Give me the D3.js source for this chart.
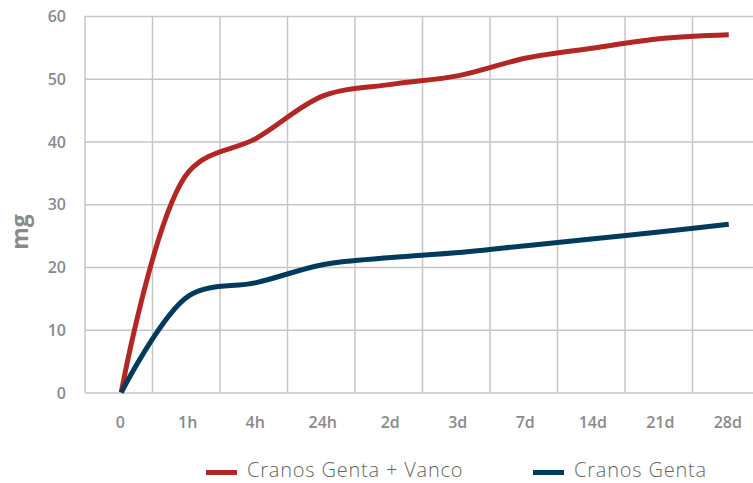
<!DOCTYPE html>
<html>
<head>
<meta charset="utf-8">
<script src="https://cdn.jsdelivr.net/npm/d3@7"></script>
<style>
  html, body { margin: 0; padding: 0; background: #fff; }
  svg { display: block; }
</style>
</head>
<body>
<div id="chart"></div>
<script>
// ---- data ----
const categories = ["0", "1h", "4h", "24h", "2d", "3d", "7d", "14d", "21d", "28d"];
const gentaVanco = [0, 35.2, 40.5, 47.3, 49.1, 50.5, 53.3, 54.9, 56.4, 57.0];
const genta      = [0, 15.4, 17.5, 20.4, 21.5, 22.3, 23.4, 24.5, 25.6, 26.8];
const yTicks = [0, 10, 20, 30, 40, 50, 60];
const seriesNames = ["Cranos Genta + Vanco", "Cranos Genta"];
const yLabel = "mg";

// ---- layout ----
const W = 753, H = 483;
const plot = { left: 85, right: 760, top: 16, bottom: 392.5 };
const colors = ["#b22624", "#003a5c"];
const gridColor = "#c6c6c8";
const tickColor = "#8a8a8c";

const svg = d3.select("#chart").append("svg")
  .attr("width", W).attr("height", H);

const x = d3.scaleBand().domain(categories).range([plot.left, plot.right]).paddingInner(0).paddingOuter(0);
const y = d3.scaleLinear().domain([0, 60]).range([plot.bottom, plot.top]);
const px = d => x(d) + x.bandwidth() / 2 + 2.5;

// horizontal grid + y labels
const yAxis = d3.axisLeft(y).tickValues(yTicks).tickSize(-(plot.right - plot.left)).tickPadding(19).tickFormat(d3.format("d"));
const gy = svg.append("g").attr("transform", `translate(${plot.left},0)`).call(yAxis);
gy.select(".domain").remove();
gy.selectAll(".tick line").attr("stroke", gridColor).attr("stroke-width", 1.5);
gy.selectAll(".tick text")
  .attr("fill", tickColor)
  .style("font-family", "'Open Sans', sans-serif")
  .style("font-weight", 600)
  .style("font-size", "16px")
  .attr("dy", "0.35em");

// vertical grid
svg.append("g").selectAll("line").data(categories).join("line")
  .attr("x1", d => x(d)).attr("x2", d => x(d))
  .attr("y1", plot.top).attr("y2", plot.bottom)
  .attr("stroke", gridColor).attr("stroke-width", 1.5);

// x labels
const xAxis = d3.axisBottom(x).tickSize(0).tickPadding(24);
const gx = svg.append("g").attr("transform", `translate(1.5,${plot.bottom})`).call(xAxis);
gx.select(".domain").remove();
gx.selectAll(".tick text")
  .attr("fill", tickColor)
  .style("font-family", "'Open Sans', sans-serif")
  .style("font-weight", 600)
  .style("font-size", "16px");

// y title
svg.append("text")
  .attr("transform", `translate(28,232) rotate(-90)`)
  .attr("text-anchor", "middle")
  .attr("fill", tickColor)
  .style("font-family", "'Open Sans', sans-serif")
  .style("font-weight", 700)
  .style("font-size", "23px")
  .text(yLabel);

// lines
const line = d3.line()
  .x((d, i) => px(categories[i]))
  .y(d => y(d))
  .curve(d3.curveCatmullRom.alpha(0.5));

[gentaVanco, genta].forEach((s, i) => {
  svg.append("path")
    .datum(s)
    .attr("d", line)
    .attr("fill", "none")
    .attr("stroke", colors[i])
    .attr("stroke-width", 5)
    .attr("stroke-linejoin", "round")
    .attr("stroke-linecap", "butt");
});

// legend
const legendItems = [
  { name: seriesNames[0], color: colors[0], x: 206 },
  { name: seriesNames[1], color: colors[1], x: 533 }
];
const lg = svg.append("g");
legendItems.forEach(it => {
  lg.append("line")
    .attr("x1", it.x).attr("x2", it.x + 31)
    .attr("y1", 472.5).attr("y2", 472.5)
    .attr("stroke", it.color).attr("stroke-width", 5);
  lg.append("text")
    .attr("x", it.x + 41).attr("y", 477)
    .attr("fill", "#666")
    .style("font-family", "'Open Sans', sans-serif")
    .style("font-weight", 300)
    .style("font-size", "20px")
    .style("letter-spacing", "0.8px")
    .text(it.name);
});
</script>
</body>
</html>
